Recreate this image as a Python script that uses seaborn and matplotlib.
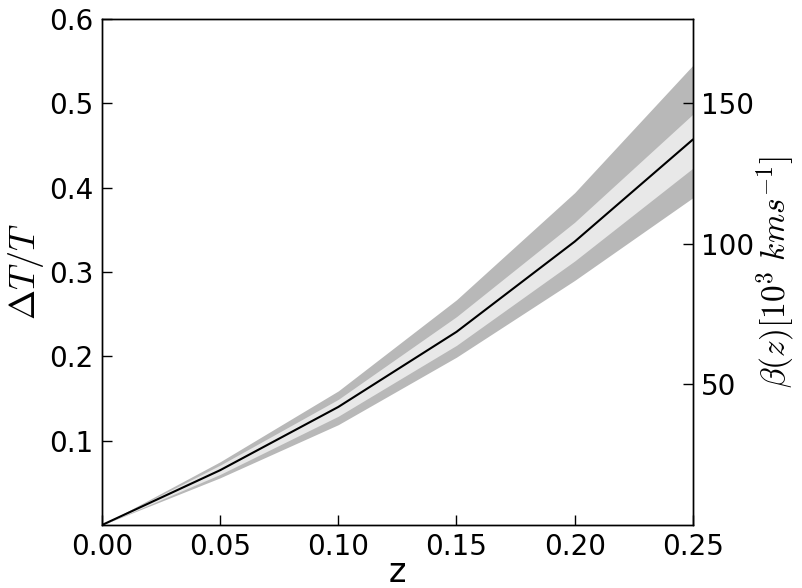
import numpy as np
import pandas as pd
import matplotlib
matplotlib.use("Agg")
import matplotlib.pyplot as plt
import seaborn as sns

# data
z = [0.0, 0.05, 0.10, 0.15, 0.20, 0.25]
dT = [0.0, 0.065, 0.140, 0.229, 0.336, 0.457]
inner_lo = [0.0, 0.060, 0.129, 0.213, 0.313, 0.423]
inner_hi = [0.0, 0.071, 0.149, 0.247, 0.359, 0.487]
outer_lo = [0.0, 0.056, 0.119, 0.199, 0.290, 0.388]
outer_hi = [0.0, 0.075, 0.159, 0.267, 0.394, 0.545]

sns.set_style("ticks")
plt.rcParams['font.family'] = ['DejaVu Sans']
plt.rcParams['mathtext.fontset'] = 'cm'
plt.rcParams['text.color'] = 'black'
plt.rcParams['axes.labelcolor'] = 'black'
plt.rcParams['xtick.color'] = 'black'
plt.rcParams['ytick.color'] = 'black'

df = pd.DataFrame({"z": z, "dT": dT})

fig = plt.figure(figsize=(8.02, 5.88), dpi=100)
ax = fig.add_axes([0.127, 0.107, 0.737, 0.861])

ax.fill_between(z, outer_lo, outer_hi, color="#b8b8b8", linewidth=0)
ax.fill_between(z, inner_lo, inner_hi, color="#e8e8e8", linewidth=0)
sns.lineplot(data=df, x="z", y="dT", color="black", linewidth=1.5, ax=ax)

ax.set_xlim(0, 0.25)
ax.set_ylim(0, 0.6)
ax.set_xticks([0.0, 0.05, 0.10, 0.15, 0.20, 0.25])
ax.set_xticklabels(["0.00", "0.05", "0.10", "0.15", "0.20", "0.25"])
ax.set_yticks([0.1, 0.2, 0.3, 0.4, 0.5, 0.6])
ax.tick_params(direction="in", labelsize=20, length=7, width=1, pad=6)
ax.set_xlabel("z", fontsize=24, labelpad=-4)
ax.set_ylabel(r"$\Delta T/T$", fontsize=26, labelpad=2)
for s in ax.spines.values():
    s.set_color("black")
    s.set_linewidth(1)

ax2 = ax.twinx()
ax2.set_ylim(0, 180)
ax2.set_yticks([50, 100, 150])
ax2.tick_params(direction="in", labelsize=20, length=7, width=1, pad=6)
ax2.set_ylabel(r"$\beta(z)[10^3\ kms^{-1}]$", fontsize=24, labelpad=0)
for s in ax2.spines.values():
    s.set_color("black")
    s.set_linewidth(1)

fig.savefig("out.png", dpi=100)
